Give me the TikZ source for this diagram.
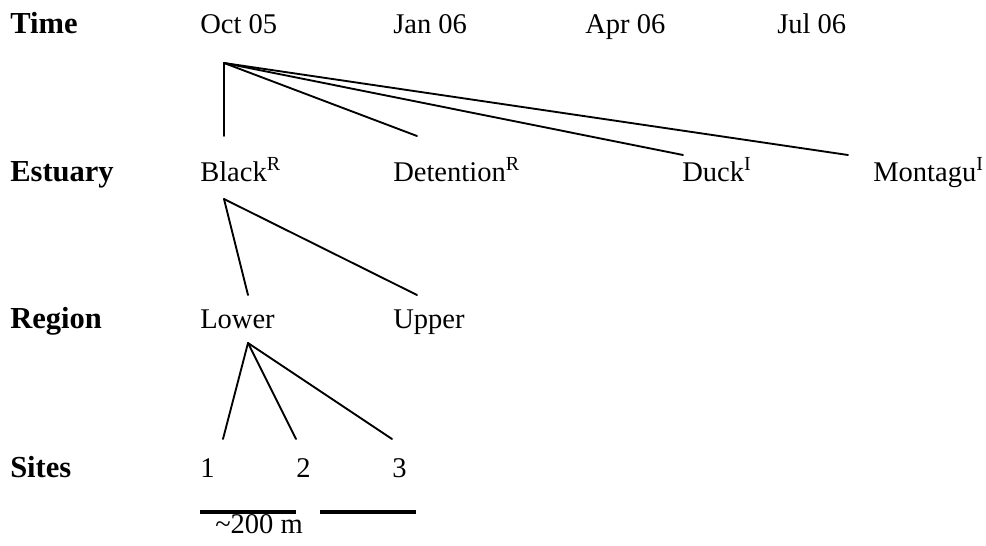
\documentclass[tikz,border=0pt]{standalone}
\usepackage{fontspec}
\setmainfont{Liberation Serif}
\begin{document}
\begin{tikzpicture}[x=0.75pt,y=-0.75pt,
  lbl/.style={anchor=base west,inner sep=0pt,font=\fontsize{22.9pt}{26pt}\selectfont\bfseries},
  txt/.style={anchor=base west,inner sep=0pt,font=\fontsize{21.4pt}{25pt}\selectfont},
  link/.style={line width=1.4pt,line cap=round},
  bar/.style={line width=2.6pt}]
\useasboundingbox (0,0) rectangle (986,546);
% row labels
\node[lbl] (lt) at (10,33) {Time};
\node[lbl] (le) at (10,181) {Estuary};
\node[lbl] (lr) at (10,328) {Region};
\node[lbl] (ls) at (10,477) {Sites};
% time
\node[txt] (t1) at (200,33) {Oct 05};
\node[txt] (t2) at (393,33) {Jan 06};
\node[txt] (t3) at (585,33) {Apr 06};
\node[txt] (t4) at (777,33) {Jul 06};
% estuaries
\node[txt] (e1) at (200,181) {Black\textsuperscript{R}};
\node[txt] (e2) at (393,181) {Detention\textsuperscript{R}};
\node[txt] (e3) at (682,181) {Duck\textsuperscript{I}};
\node[txt] (e4) at (873,181) {Montagu\textsuperscript{I}};
% regions
\node[txt] (r1) at (200,328) {Lower};
\node[txt] (r2) at (393,328) {Upper};
% sites
\node[txt] (s1) at (200,477) {1};
\node[txt] (s2) at (296,477) {2};
\node[txt] (s3) at (392,477) {3};
\node[txt] (sc) at (215,533) {\textasciitilde200 m};
% connector points
\coordinate (ta) at (224,63);
\coordinate (te1) at (224,136);
\coordinate (te2) at (417,136);
\coordinate (te3) at (683,155);
\coordinate (te4) at (848,155);
\coordinate (ea) at (224,199);
\coordinate (er1) at (248,295);
\coordinate (er2) at (417,295);
\coordinate (ra) at (248,343);
\coordinate (rs1) at (223,439);
\coordinate (rs2) at (296,439);
\coordinate (rs3) at (392,439);
\coordinate (b1a) at (200,512);
\coordinate (b1b) at (296,512);
\coordinate (b2a) at (320,512);
\coordinate (b2b) at (416,512);
% connectors
\draw[link] (ta) -- (te1);
\draw[link] (ta) -- (te2);
\draw[link] (ta) -- (te3);
\draw[link] (ta) -- (te4);
\draw[link] (ea) -- (er1);
\draw[link] (ea) -- (er2);
\draw[link] (ra) -- (rs1);
\draw[link] (ra) -- (rs2);
\draw[link] (ra) -- (rs3);
\draw[bar] (b1a) -- (b1b);
\draw[bar] (b2a) -- (b2b);
\end{tikzpicture}
\end{document}
